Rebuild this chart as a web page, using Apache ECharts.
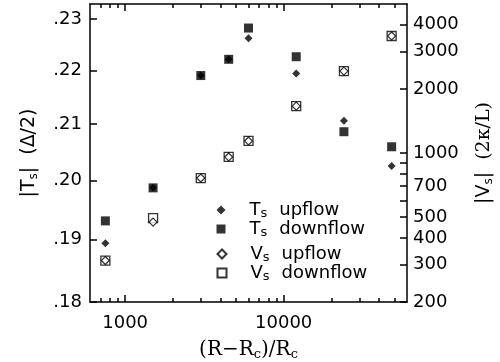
<!DOCTYPE html>
<html><head><meta charset="utf-8">
<script src="https://cdn.jsdelivr.net/npm/echarts@6/dist/echarts.min.js"></script>
<style>html,body{margin:0;padding:0;background:#fff}#c{width:500px;height:362px}</style>
</head><body><div id="c"></div>
<script>
const xValues    = [750, 1500, 3000, 4500, 6000, 12000, 24000, 48000];
const tsUpflow   = [0.1894, 0.1987, 0.2190, 0.2221, 0.2262, 0.2194, 0.2106, 0.2025];
const tsDownflow = [0.1931, 0.1987, 0.2190, 0.2221, 0.2282, 0.2226, 0.2086, 0.2059];
const vsUpflow   = [313, 474, 763, 958, 1139, 1658, 2422, 3538];
const vsDownflow = [313, 495, 763, 958, 1139, 1658, 2422, 3538];
const xMajorTicks = [1000, 10000];
const xMinorTicks = [700, 800, 900, 2000, 3000, 4000, 5000, 6000, 7000, 8000, 9000, 20000, 30000, 40000, 50000];
const tsTicks  = [0.18, 0.19, 0.20, 0.21, 0.22, 0.23];
const vsLabels = [200, 300, 400, 500, 700, 1000, 2000, 3000, 4000];
const vsTicks  = [200, 300, 400, 500, 600, 700, 800, 900, 1000, 2000, 3000, 4000];

const SANS = "'DejaVu Sans', sans-serif";
const SERIF = "'DejaVu Serif', serif";
const BLACK = '#000';
const chart = echarts.init(document.getElementById('c'), null, {renderer: 'canvas'});
function pairs(ys) { return xValues.map((x, i) => [x, ys[i]]); }
const gridBox = {left: 90, right: 93, top: 4, bottom: 60, outerBoundsMode: 'none', containLabel: false};

function tickDef(ticks, len) {
  return {show: true, inside: true, length: len, customValues: ticks, lineStyle: {color: BLACK, width: 1.5}};
}
function xAxisDef(gridIndex, position, ticks, len, showLine, label) {
  const a = {
    type: 'log', logBase: 10, gridIndex, position, min: 600, max: 60000,
    axisLine: {show: showLine, lineStyle: {color: BLACK, width: 1.5}},
    axisTick: tickDef(ticks, len),
    axisLabel: {show: false},
    splitLine: {show: false}, minorTick: {show: false}, minorSplitLine: {show: false},
    nameMoveOverlap: false
  };
  if (label) {
    a.axisLabel = {show: true, customValues: ticks, formatter: v => String(Math.round(v)),
      color: BLACK, fontFamily: SANS, fontSize: 18, margin: 12};
    a.name = '{r|(R\u2212R}{c|c}{r|)/R}{c|c}';
    a.nameLocation = 'middle';
    a.nameGap = 37;
    a.nameTextStyle = {color: BLACK, fontFamily: SERIF, fontSize: 20,
      rich: {r: {fontFamily: SERIF, fontSize: 20, lineHeight: 22, color: BLACK},
             c: {fontFamily: SERIF, fontSize: 13, lineHeight: 10, verticalAlign: 'bottom', color: BLACK}}};
  }
  return a;
}
const legendRich = {
  t: {fontFamily: SANS, fontSize: 18, lineHeight: 20, color: BLACK, padding: [0, 0, 0, 19]},
  s: {fontFamily: SANS, fontSize: 13, lineHeight: 10, verticalAlign: 'bottom', color: BLACK},
  w: {fontFamily: SANS, fontSize: 18, lineHeight: 20, color: BLACK, padding: [0, 0, 0, 12]}
};
const legendText = {
  'Ts upflow': '{t|T}{s|s}{w|upflow}', 'Ts downflow': '{t|T}{s|s}{w|downflow}',
  'Vs upflow': '{t|V}{s|s}{w|upflow}', 'Vs downflow': '{t|V}{s|s}{w|downflow}'
};
function legendDef(items, top) {
  return {orient: 'vertical', left: 216.5, top, padding: 0, itemGap: 0, itemWidth: 9, itemHeight: 9,
    selectedMode: false, data: items, formatter: n => legendText[n],
    textStyle: {color: BLACK, fontFamily: SANS, fontSize: 18, rich: legendRich}};
}
const option = {
  animation: false, backgroundColor: '#fff',
  grid: [Object.assign({}, gridBox), Object.assign({}, gridBox)],
  legend: [
    legendDef([{name: 'Ts upflow', icon: 'diamond'}, {name: 'Ts downflow', icon: 'rect'}], 201),
    legendDef([{name: 'Vs upflow', icon: 'diamond'}, {name: 'Vs downflow', icon: 'rect'}], 245)
  ],
  xAxis: [
    xAxisDef(0, 'bottom', xMajorTicks, 7, true, true),
    xAxisDef(0, 'top', xMajorTicks, 7, true, false),
    xAxisDef(1, 'bottom', xMinorTicks, 4, false, false),
    xAxisDef(1, 'top', xMinorTicks, 4, false, false)
  ],
  yAxis: [
    {type: 'log', logBase: 10, gridIndex: 0, position: 'left', min: 0.18, max: 0.233,
      axisLine: {show: true, lineStyle: {color: BLACK, width: 1.5}},
      axisTick: tickDef(tsTicks, 7),
      axisLabel: {show: true, customValues: tsTicks, formatter: v => v.toFixed(2).replace(/^0/, ''),
        color: BLACK, fontFamily: SANS, fontSize: 18, margin: 8},
      splitLine: {show: false}, minorTick: {show: false}, minorSplitLine: {show: false},
      name: '{a||T}{s|s}{a||  (\u0394/2)}', nameLocation: 'middle', nameGap: 50, nameRotate: 90, nameMoveOverlap: false,
      nameTextStyle: {color: BLACK, fontFamily: SANS, fontSize: 19,
        rich: {a: {fontFamily: SANS, fontSize: 19, lineHeight: 22, color: BLACK},
               s: {fontFamily: SANS, fontSize: 12, lineHeight: 10, verticalAlign: 'bottom', color: BLACK}}}},
    {type: 'log', logBase: 10, gridIndex: 0, position: 'right', min: 200, max: 5000,
      axisLine: {show: true, lineStyle: {color: BLACK, width: 1.5}},
      axisTick: tickDef(vsTicks, 7),
      axisLabel: {show: true, customValues: vsLabels, formatter: v => String(Math.round(v)),
        color: BLACK, fontFamily: SANS, fontSize: 18, margin: 6},
      splitLine: {show: false}, minorTick: {show: false}, minorSplitLine: {show: false},
      name: '{a||V}{s|s}{a||}{b|  (2\u03BA/L)}', nameLocation: 'middle', nameGap: 66, nameRotate: 90, nameMoveOverlap: false,
      nameTextStyle: {color: BLACK, fontFamily: SANS, fontSize: 19,
        rich: {a: {fontFamily: SANS, fontSize: 19, lineHeight: 22, color: BLACK},
               s: {fontFamily: SANS, fontSize: 12, lineHeight: 10, verticalAlign: 'bottom', color: BLACK},
               b: {fontFamily: SERIF, fontSize: 19, lineHeight: 22, color: BLACK}}}},
    {type: 'value', gridIndex: 1, show: false, min: 0, max: 1}
  ],
  series: [
    {type: 'scatter', name: 'Ts upflow', xAxisIndex: 0, yAxisIndex: 0, z: 2,
     symbol: 'diamond', symbolSize: 8, itemStyle: {color: BLACK}, data: pairs(tsUpflow)},
    {type: 'scatter', name: 'Ts downflow', xAxisIndex: 0, yAxisIndex: 0, z: 3,
     symbol: 'rect', symbolSize: 9, itemStyle: {color: BLACK}, data: pairs(tsDownflow)},
    {type: 'scatter', name: 'Vs downflow', xAxisIndex: 0, yAxisIndex: 1, z: 4,
     symbol: 'rect', symbolSize: 9, itemStyle: {color: '#fff', borderColor: BLACK, borderWidth: 1.3}, data: pairs(vsDownflow)},
    {type: 'scatter', name: 'Vs upflow', xAxisIndex: 0, yAxisIndex: 1, z: 5,
     symbol: 'diamond', symbolSize: 8, itemStyle: {color: '#fff', borderColor: BLACK, borderWidth: 1.2}, data: pairs(vsUpflow)}
  ]
};
chart.setOption(option);
</script></body></html>
